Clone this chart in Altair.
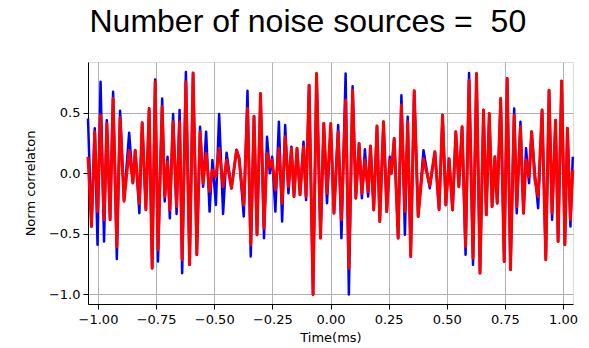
import altair as alt
import pandas as pd

# Sample times (ms) of the correlation curves
time_ms = [
    -1.043, -1.028, -1.014, -1.002, -0.989, -0.974, -0.962, -0.948, -0.935, -0.919,
    -0.905, -0.888, -0.866, -0.850, -0.840, -0.822, -0.810, -0.794, -0.780, -0.767,
    -0.754, -0.742, -0.724, -0.713, -0.701, -0.691, -0.677, -0.662, -0.649, -0.638,
    -0.622, -0.606, -0.591, -0.575, -0.561, -0.548, -0.535, -0.520, -0.508, -0.493,
    -0.479, -0.462, -0.447, -0.426, -0.404, -0.393, -0.373, -0.357, -0.343, -0.329,
    -0.316, -0.301, -0.286, -0.273, -0.261, -0.251, -0.237, -0.222, -0.208, -0.195,
    -0.181, -0.168, -0.157, -0.144, -0.131, -0.116, -0.105, -0.092, -0.075, -0.060,
    -0.043, -0.029, -0.015, 0.001, 0.015, 0.033, 0.047, 0.065, 0.079, 0.095,
    0.109, 0.123, 0.135, 0.148, 0.162, 0.172, 0.186, 0.200, 0.212, 0.228,
    0.242, 0.255, 0.262, 0.274, 0.291, 0.305, 0.320, 0.332, 0.345, 0.360,
    0.377, 0.400, 0.427, 0.449, 0.467, 0.482, 0.496, 0.510, 0.525, 0.539,
    0.552, 0.566, 0.581, 0.596, 0.613, 0.628, 0.643, 0.658, 0.670, 0.683,
    0.695, 0.707, 0.717, 0.732, 0.747, 0.760, 0.774, 0.790, 0.801, 0.817,
    0.830, 0.841, 0.854, 0.865, 0.879, 0.893, 0.910, 0.926, 0.940, 0.953,
    0.968, 0.979, 0.994, 1.008, 1.019, 1.032, 1.042,
]

# Normalised correlation, first estimate (blue)
corr_blue = [
    0.453, -0.439, 0.371, -0.590, 0.755, -0.563, 0.439, -0.384, 0.673, -0.708,
    0.516, -0.220, 0.335, -0.080, 0.190, -0.330, 0.417, -0.300, 0.535, -0.783,
    0.774, -0.728, 0.618, -0.233, 0.137, -0.371, 0.489, -0.335, 0.522, -0.824,
    0.837, -0.755, 0.829, -0.673, 0.384, -0.110, 0.343, -0.316, 0.110, -0.261,
    0.489, -0.335, 0.170, -0.124, 0.192, 0.130, -0.357, 0.681, -0.686, 0.472,
    -0.508, 0.659, -0.535, 0.302, 0.000, 0.137, -0.316, 0.426, -0.398, 0.398,
    -0.165, 0.220, -0.192, 0.206, -0.178, 0.261, -0.220, 0.728, -1.000, 0.824,
    -0.535, 0.412, -0.247, 0.384, -0.330, 0.398, -0.535, 0.824, -1.000, 0.719,
    -0.206, 0.247, -0.206, 0.198, -0.192, 0.225, -0.302, 0.390, -0.398, 0.426,
    -0.316, 0.137, 0.000, 0.288, -0.535, 0.645, -0.508, 0.467, -0.686, 0.681,
    -0.357, 0.190, -0.124, 0.178, -0.300, 0.481, -0.261, 0.120, -0.302, 0.343,
    -0.110, 0.384, -0.673, 0.829, -0.755, 0.824, -0.824, 0.522, -0.343, 0.494,
    -0.275, 0.137, -0.247, 0.618, -0.728, 0.783, -0.796, 0.535, -0.330, 0.426,
    -0.330, 0.206, -0.082, 0.343, 0.000, -0.288, 0.522, -0.714, 0.686, -0.384,
    0.439, -0.563, 0.763, -0.590, 0.371, -0.439, 0.137,
]

# Normalised correlation, second estimate (red)
corr_red = [
    0.137, -0.439, 0.343, -0.316, 0.481, -0.384, 0.412, -0.384, 0.618, -0.604,
    0.460, -0.230, 0.190, -0.080, 0.190, -0.250, 0.417, -0.300, 0.535, -0.783,
    0.755, -0.632, 0.549, -0.192, 0.096, -0.302, 0.426, -0.275, 0.426, -0.714,
    0.755, -0.755, 0.829, -0.673, 0.343, -0.082, 0.165, -0.151, 0.027, -0.027,
    0.206, -0.110, 0.110, -0.124, 0.192, 0.120, -0.261, 0.535, -0.590, 0.472,
    -0.508, 0.659, -0.453, 0.165, 0.055, 0.110, -0.137, 0.206, -0.247, 0.302,
    -0.110, 0.206, -0.192, 0.206, -0.178, 0.220, -0.192, 0.728, -1.000, 0.824,
    -0.535, 0.412, -0.165, 0.412, -0.330, 0.343, -0.384, 0.604, -0.783, 0.686,
    -0.206, 0.247, -0.165, 0.110, -0.151, 0.225, -0.302, 0.390, -0.398, 0.426,
    -0.316, 0.110, 0.000, 0.288, -0.535, 0.563, -0.316, 0.426, -0.686, 0.681,
    -0.357, 0.120, -0.100, 0.178, -0.300, 0.481, -0.261, 0.120, -0.302, 0.343,
    -0.110, 0.384, -0.604, 0.769, -0.700, 0.824, -0.824, 0.522, -0.343, 0.494,
    -0.275, 0.137, -0.247, 0.618, -0.728, 0.783, -0.796, 0.481, -0.275, 0.384,
    -0.330, 0.110, -0.027, 0.343, -0.050, -0.192, 0.522, -0.714, 0.686, -0.330,
    0.439, -0.563, 0.763, -0.590, 0.371, -0.384, 0.027,
]

x_ticks = [-1.0, -0.75, -0.5, -0.25, 0.0, 0.25, 0.5, 0.75, 1.0]
y_ticks = [-1.0, -0.5, 0.0, 0.5]
title_text = ["Number of noise sources = \u00a050"]

df_blue = pd.DataFrame({"t": time_ms, "c": corr_blue})
df_red = pd.DataFrame({"t": time_ms, "c": corr_red})
df_title = pd.DataFrame({"label": title_text})

FONT = "DejaVu Sans"

x_enc = alt.X(
    "t:Q",
    scale=alt.Scale(domain=[-1.043, 1.043], nice=False, zero=False),
    axis=alt.Axis(
        values=x_ticks,
        title="Time(ms)",
        labelExpr="replace(format(datum.value, '.2f'), '-', '\u2212')",
        grid=True,
        gridColor="#b0b0b0",
        gridWidth=1,
        domainColor="black",
        tickColor="black",
        tickSize=5,
        labelPadding=4,
        labelFont=FONT,
        labelFontSize=13,
        labelColor="black",
        titleFont=FONT,
        titleFontSize=13,
        titleFontWeight="normal",
        titleColor="black",
        titlePadding=5,
    ),
)
y_enc = alt.Y(
    "c:Q",
    scale=alt.Scale(domain=[-1.079, 0.919], nice=False, zero=False),
    axis=alt.Axis(
        values=y_ticks,
        title="Norm correlaton",
        labelExpr="replace(format(datum.value, '.1f'), '-', '\u2212')",
        grid=True,
        gridColor="#b0b0b0",
        gridWidth=1,
        domainColor="black",
        tickColor="black",
        tickSize=5,
        labelPadding=3,
        labelFont=FONT,
        labelFontSize=13,
        labelColor="black",
        titleFont=FONT,
        titleFontSize=13,
        titleFontWeight="normal",
        titleColor="black",
        titlePadding=11,
    ),
)

blue = alt.Chart(df_blue).mark_line(
    color="#0000ff", strokeWidth=2.5, strokeJoin="round"
).encode(x=x_enc, y=y_enc, order="t:Q")

red = alt.Chart(df_red).mark_line(
    color="#ff0000", strokeWidth=3, strokeJoin="round"
).encode(x=x_enc, y=y_enc, order="t:Q")

# Figure heading, placed above the plot area
heading = alt.Chart(df_title).mark_text(
    font="Liberation Sans",
    fontSize=32,
    color="black",
    align="left",
    baseline="alphabetic",
).encode(text="label:N", x=alt.value(1.5), y=alt.value(-30.5))

chart = (
    alt.layer(blue, red, heading)
    .properties(
        width=485,
        height=242,
        autosize=alt.AutoSizeParams(type="none"),
        padding={"left": 88, "top": 62, "right": 16, "bottom": 44},
    )
    .configure_view(stroke="black", strokeWidth=1)
    .configure(background="white")
)

chart.save("out.html", embed_options={"renderer": "svg", "actions": False})
